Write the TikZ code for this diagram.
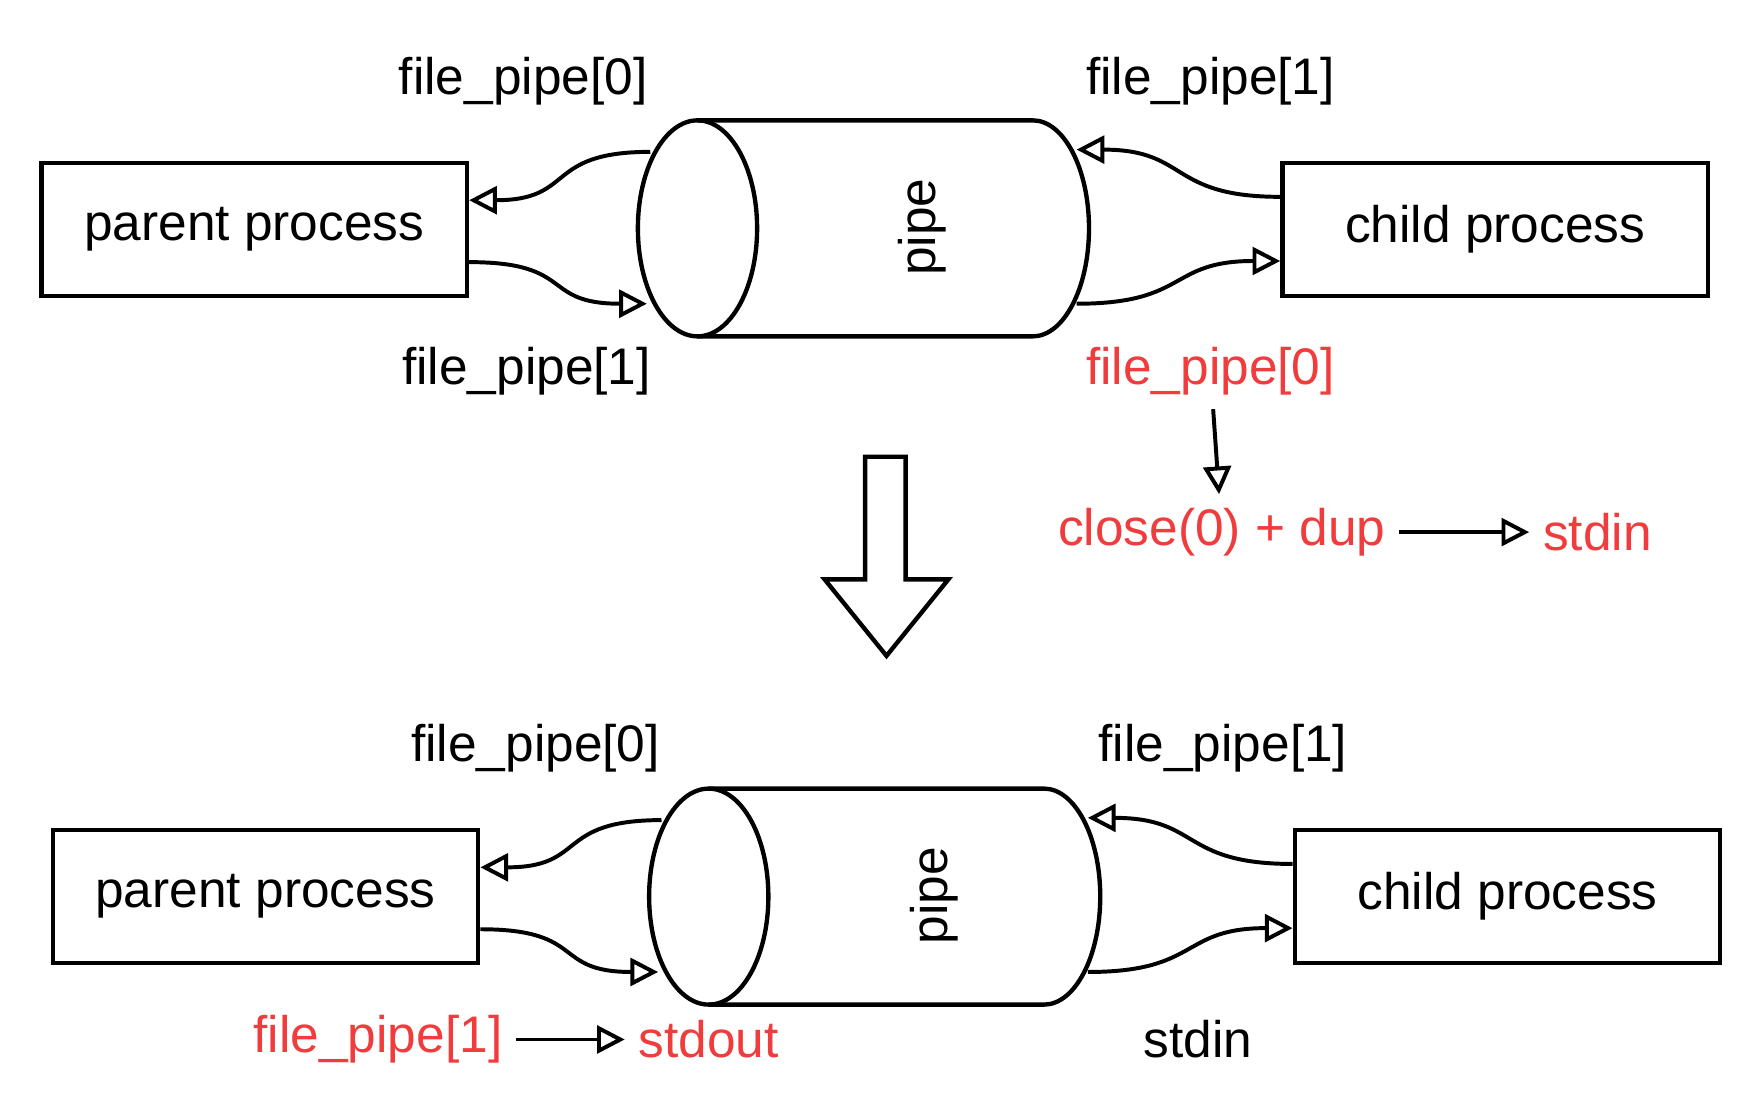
\documentclass[tikz,border=0pt]{standalone}
\usepackage{fontspec}
\setmainfont{Liberation Sans}
\usetikzlibrary{arrows.meta}
\definecolor{notered}{RGB}{240,60,60}
\begin{document}
\begin{tikzpicture}[x=0.01cm,y=-0.01cm]
        \tikzset{proc/.style = {shape=rectangle,draw,line width=1.1pt,minimum width=3.78cm,minimum height=1.18cm,font=\fontsize{13pt}{15pt}\selectfont}}
        \tikzset{pipeline/.style = {line width=1.1pt}}
        \tikzset{lbl/.style = {font=\fontsize{13pt}{15pt}\selectfont}}
        \tikzset{edge/.style = {line width=1pt,-{Triangle[open,length=7pt,width=7pt]}}}
        \useasboundingbox (0,0) rectangle (1568,992);
        % before: parent, pipe and child
        \node[proc] (pa) at (226,204) {parent process};
        \node[proc] (ca) at (1329,204) {child process};
        \draw[pipeline] (620,203) ellipse[x radius=53,y radius=96];
        \draw[pipeline] (620,107) -- (918,107) arc[start angle=-90,end angle=90,x radius=50,y radius=96] -- (620,299);
        \node[lbl,rotate=90] (pipetxta) at (820,202) {pipe};
        \coordinate (pa0) at (578,135);
        \coordinate (pa1) at (575,270);
        \coordinate (pa2) at (957,133);
        \coordinate (pa3) at (957,270);
        \node[lbl] (rda) at (465,72) {file\_pipe[0]};
        \node[lbl] (wra) at (468,330) {file\_pipe[1]};
        \node[lbl] (wca) at (1076,72) {file\_pipe[1]};
        \node[lbl,text=notered] (rca) at (1076,330) {file\_pipe[0]};
        \draw[edge] (pa0) .. controls +(-95,0) and +(95,0) .. ([yshift=0.26cm]pa.east);
        \draw[edge] ([yshift=-0.29cm]pa.east) .. controls +(95,0) and +(-95,0) .. (pa1);
        \draw[edge] ([yshift=0.29cm]ca.west) .. controls +(-100,0) and +(100,0) .. (pa2);
        \draw[edge] (pa3) .. controls +(100,0) and +(-100,0) .. ([yshift=-0.28cm]ca.west);
        % what the child does with file_pipe[0]
        \node[lbl,text=notered] (dup) at (1086,473) {close(0) + dup};
        \node[lbl,text=notered] (sin) at (1420,473) {stdin};
        \draw[edge] (rca) -- (dup);
        \draw[edge] (dup) -- (sin);
        % big arrow down
        \draw[line width=1.1pt] (769,406) -- (805,406) -- (805,515) -- (843,515) -- (788,583) -- (733,515) -- (769,515) -- cycle;
        % after: parent, pipe and child
        \node[proc] (pb) at (236,797) {parent process};
        \node[proc] (cb) at (1340,797) {child process};
        \draw[pipeline] (630,797) ellipse[x radius=53,y radius=96];
        \draw[pipeline] (630,701) -- (928,701) arc[start angle=-90,end angle=90,x radius=50,y radius=96] -- (630,893);
        \node[lbl,rotate=90] (pipetxtb) at (830,796) {pipe};
        \coordinate (pb0) at (588,729);
        \coordinate (pb1) at (585,864);
        \coordinate (pb2) at (967,727);
        \coordinate (pb3) at (967,864);
        \node[lbl] (rdb) at (476,665) {file\_pipe[0]};
        \node[lbl] (wcb) at (1087,665) {file\_pipe[1]};
        \draw[edge] (pb0) .. controls +(-95,0) and +(95,0) .. ([yshift=0.26cm]pb.east);
        \draw[edge] ([yshift=-0.29cm]pb.east) .. controls +(95,0) and +(-95,0) .. (pb1);
        \draw[edge] ([yshift=0.29cm]cb.west) .. controls +(-100,0) and +(100,0) .. (pb2);
        \draw[edge] (pb3) .. controls +(100,0) and +(-100,0) .. ([yshift=-0.28cm]cb.west);
        % redirections
        \node[lbl,text=notered] (wrb) at (336,924) {file\_pipe[1]};
        \node[lbl,text=notered] (sout) at (630,924) {stdout};
        \node[lbl] (sinb) at (1065,924) {stdin};
        \draw[edge] (wrb) -- (sout);
\end{tikzpicture}
\end{document}
